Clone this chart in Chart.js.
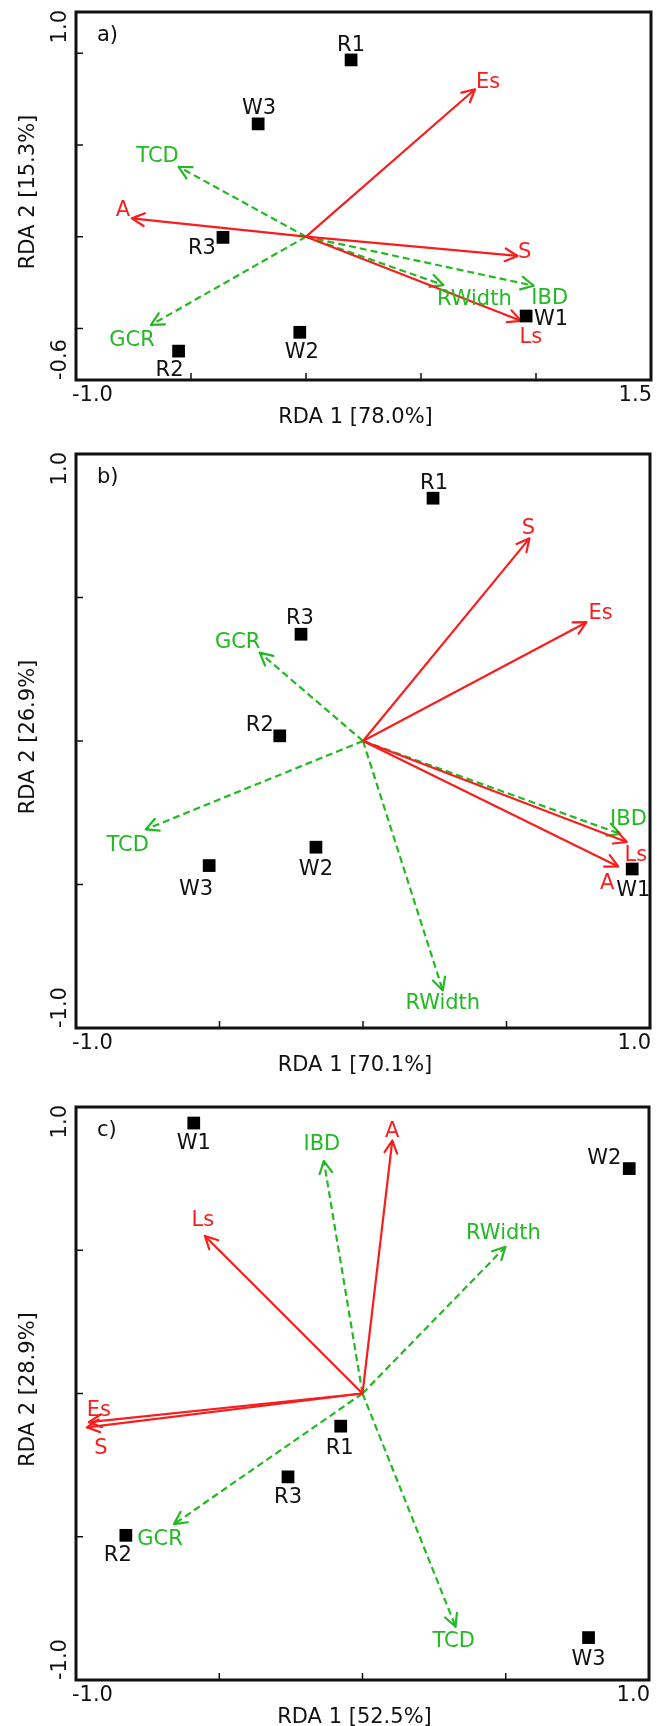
<!DOCTYPE html>
<html>
<head>
<meta charset="utf-8">
<title>RDA biplots</title>
<script src="https://cdn.jsdelivr.net/npm/chart.js@4.4.1/dist/chart.umd.min.js"></script>
<style>
  body { margin: 0; background: #fff; }
  .panel { position: absolute; left: 0; width: 664px; }
</style>
</head>
<body>
<div class="panel" style="top:0;height:436px"><canvas id="chartA" width="664" height="436"></canvas></div>
<div class="panel" style="top:436px;height:654px"><canvas id="chartB" width="664" height="654"></canvas></div>
<div class="panel" style="top:1090px;height:636px"><canvas id="chartC" width="664" height="636"></canvas></div>
<script>
const siteNames = ['R1', 'R2', 'R3', 'W1', 'W2', 'W3'];
const respNames = ['A', 'Es', 'Ls', 'S'];            // red, solid arrows
const envNames = ['GCR', 'IBD', 'RWidth', 'TCD'];    // green, dashed arrows

// panel a
const sitesAx = [0.196, -0.554, -0.361, 0.957, -0.027, -0.208];
const sitesAy = [0.771, -0.499, -0.003, -0.346, -0.417, 0.492];
const respAx = [-0.757, 0.735, 0.934, 0.920];
const respAy = [0.080, 0.643, -0.367, -0.084];
const envAx = [-0.674, 0.990, 0.597, -0.554];
const envAy = [-0.385, -0.214, -0.211, 0.305];
const xRangeA = [-1.0, 1.5];
const yRangeA = [-0.625, 0.98];
const xTicksA = [-0.5, 0, 0.5, 1.0];
const yTicksA = [-0.4, 0, 0.4, 0.8];
const xEndLabelsA = ['-1.0', '1.5'];
const yEndLabelsA = ['-0.6', '1.0'];

// panel b
const sitesBx = [0.244, -0.290, -0.216, 0.938, -0.164, -0.536];
const sitesBy = [0.846, 0.018, 0.372, -0.446, -0.370, -0.434];
const respBx = [0.889, 0.779, 0.919, 0.580];
const respBy = [-0.437, 0.414, -0.352, 0.706];
const envBx = [-0.360, 0.897, 0.278, -0.757];
const envBy = [0.308, -0.324, -0.869, -0.308];
const xRangeB = [-1.0, 1.0];
const yRangeB = [-1.0, 1.0];
const xTicksB = [-0.5, 0, 0.5];
const yTicksB = [-0.5, 0, 0.5];
const xEndLabelsB = ['-1.0', '1.0'];
const yEndLabelsB = ['-1.0', '1.0'];

// panel c
const sitesCx = [-0.076, -0.826, -0.260, -0.589, 0.931, 0.789];
const sitesCy = [-0.114, -0.495, -0.291, 0.944, 0.785, -0.852];
const respCx = [0.104, -0.955, -0.550, -0.962];
const respCy = [0.883, -0.100, 0.550, -0.118];
const envCx = [-0.658, -0.135, 0.499, 0.325];
const envCy = [-0.456, 0.812, 0.512, -0.814];
const xRangeC = [-1.0, 1.0];
const yRangeC = [-1.0, 1.0];
const xTicksC = [-0.5, 0, 0.5];
const yTicksC = [-0.5, 0, 0.5];
const xEndLabelsC = ['-1.0', '1.0'];
const yEndLabelsC = ['-1.0', '1.0'];

const RED = '#f81e1e';
const GREEN = '#22b922';
const FONT = '21px "DejaVu Sans", Verdana, sans-serif';
const CAP_HALF = 7.6;   // half cap height at 21px, to centre labels on their anchor

// label placement (label centre relative to the point / arrow tip, px)
const siteOffA = [[0, -17], [-9, 17], [-21, 9], [25, 1], [2, 18], [1, -17]];
const respOffA = [[-9, -10], [13, -9], [10, 15], [7, -6]];
const envOffA = [[-19, 13], [16, 11], [31, 12], [-21, -12]];
const siteOffB = [[1, -17], [-20, -12], [-1, -18], [1, 19], [0, 20], [-13, 22]];
const respOffB = [[-11, 15], [14, -11], [9, 11], [-1, -12]];
const envOffB = [[-22, -12], [8, -17], [0, 11], [-18, 14]];
const siteOffC = [[-1, 20], [-8, 18], [0, 19], [0, 18], [-25, -12], [0, 20]];
const respOffC = [[0, -11], [10, -14], [-2, -18], [14, 19]];
const envOffC = [[-14, 13], [-2, -18], [-2, -15], [-2, 13]];

const decor = {
    id: 'decor',
    beforeDraw(chart) {
        const ctx = chart.ctx;
        ctx.save();
        ctx.fillStyle = '#fff';
        ctx.fillRect(0, 0, chart.width, chart.height);
        ctx.restore();
    },
    afterDatasetDraw(chart, args) {
        const ds = chart.data.datasets[args.index];
        if (!ds.arrow) return;
        const pts = args.meta.data;
        const p0 = pts[0], p1 = pts[1];
        const ang = Math.atan2(p1.y - p0.y, p1.x - p0.x);
        const len = 14, half = 27 * Math.PI / 180;
        const ctx = chart.ctx;
        ctx.save();
        ctx.strokeStyle = ds.borderColor;
        ctx.lineWidth = 2.2;
        ctx.setLineDash([]);
        ctx.lineCap = 'round';
        ctx.beginPath();
        [-1, 1].forEach(s => {
            ctx.moveTo(p1.x, p1.y);
            ctx.lineTo(p1.x - len * Math.cos(ang + s * half), p1.y - len * Math.sin(ang + s * half));
        });
        ctx.stroke();
        ctx.restore();
    },
    afterDraw(chart, args, opts) {
        const ctx = chart.ctx;
        const area = chart.chartArea;
        const xs = chart.scales.x, ys = chart.scales.y;
        ctx.save();

        // frame and inner tick marks
        ctx.strokeStyle = '#111';
        ctx.lineWidth = 3;
        ctx.strokeRect(area.left, area.top, area.right - area.left, area.bottom - area.top);
        ctx.lineWidth = 1.5;
        ctx.beginPath();
        xs.ticks.forEach(t => {
            const px = xs.getPixelForValue(t.value);
            ctx.moveTo(px, area.bottom);
            ctx.lineTo(px, area.bottom - 7);
        });
        ys.ticks.forEach(t => {
            const py = ys.getPixelForValue(t.value);
            ctx.moveTo(area.left, py);
            ctx.lineTo(area.left + 7, py);
        });
        ctx.stroke();

        ctx.font = FONT;
        ctx.fillStyle = '#111';
        ctx.textBaseline = 'alphabetic';

        // end labels of the x axis
        ctx.textAlign = 'left';
        ctx.fillText(opts.xEnd[0], xs.getPixelForValue(xs.min) - 4, area.bottom + 21);
        ctx.textAlign = 'right';
        ctx.fillText(opts.xEnd[1], xs.getPixelForValue(xs.max) + 1, area.bottom + 21);

        // end labels of the y axis (rotated)
        ctx.save();
        ctx.translate(area.left - 10, ys.getPixelForValue(ys.min));
        ctx.rotate(-Math.PI / 2);
        ctx.textAlign = 'left';
        ctx.fillText(opts.yEnd[0], 0, 0);
        ctx.restore();
        ctx.save();
        ctx.translate(area.left - 10, ys.getPixelForValue(ys.max) - 2);
        ctx.rotate(-Math.PI / 2);
        ctx.textAlign = 'right';
        ctx.fillText(opts.yEnd[1], 0, 0);
        ctx.restore();

        // axis titles
        ctx.textAlign = 'center';
        ctx.fillText(opts.xTitle, (area.left + area.right) / 2 - 8, area.bottom + 43);
        ctx.save();
        ctx.translate(34, (area.top + area.bottom) / 2 - 4);
        ctx.rotate(-Math.PI / 2);
        ctx.fillText(opts.yTitle, 0, 0);
        ctx.restore();

        // panel tag
        ctx.textAlign = 'left';
        ctx.fillText(opts.tag, area.left + 21, area.top + 29);

        // point and arrow labels
        ctx.textAlign = 'center';
        chart.data.datasets.forEach((ds, i) => {
            if (!ds.pointLabels) return;
            const els = chart.getDatasetMeta(i).data;
            ds.pointLabels.forEach((txt, j) => {
                if (!txt) return;
                const off = ds.labelOffsets[j];
                ctx.fillStyle = ds.labelColor;
                ctx.fillText(txt, els[j].x + off[0], els[j].y + off[1] + CAP_HALF);
            });
        });
        ctx.restore();
    }
};

function buildPanel(canvasId, p) {
    const datasets = [{
        label: 'sites',
        data: p.sx.map((x, i) => ({x: x, y: p.sy[i]})),
        pointStyle: 'rect',
        pointRadius: 9,
        backgroundColor: '#000',
        borderWidth: 0,
        pointLabels: siteNames,
        labelOffsets: p.siteOff,
        labelColor: '#111'
    }];
    respNames.forEach((name, i) => {
        datasets.push({
            label: name,
            data: [{x: 0, y: 0}, {x: p.rx[i], y: p.ry[i]}],
            showLine: true,
            borderColor: RED,
            borderWidth: 2.2,
            pointRadius: 0,
            arrow: true,
            clip: false,
            pointLabels: ['', name],
            labelOffsets: [null, p.respOff[i]],
            labelColor: RED
        });
    });
    envNames.forEach((name, i) => {
        datasets.push({
            label: name,
            data: [{x: 0, y: 0}, {x: p.ex[i], y: p.ey[i]}],
            showLine: true,
            borderColor: GREEN,
            borderWidth: 2.2,
            borderDash: [7, 4],
            pointRadius: 0,
            arrow: true,
            clip: false,
            pointLabels: ['', name],
            labelOffsets: [null, p.envOff[i]],
            labelColor: GREEN
        });
    });

    new Chart(document.getElementById(canvasId), {
        type: 'scatter',
        data: { datasets: datasets },
        options: {
            responsive: false,
            animation: false,
            devicePixelRatio: 1,
            events: [],
            layout: { padding: p.pad },
            plugins: {
                legend: { display: false },
                tooltip: { enabled: false },
                decor: {
                    tag: p.tag,
                    xTitle: p.xTitle,
                    yTitle: p.yTitle,
                    xEnd: p.xEnd,
                    yEnd: p.yEnd
                }
            },
            scales: {
                x: {
                    type: 'linear',
                    display: false,
                    min: p.xRange[0],
                    max: p.xRange[1],
                    afterBuildTicks: s => { s.ticks = p.xTicks.map(v => ({value: v})); }
                },
                y: {
                    type: 'linear',
                    display: false,
                    min: p.yRange[0],
                    max: p.yRange[1],
                    afterBuildTicks: s => { s.ticks = p.yTicks.map(v => ({value: v})); }
                }
            }
        },
        plugins: [decor]
    });
}

buildPanel('chartA', {
    tag: 'a)', xTitle: 'RDA 1 [78.0%]', yTitle: 'RDA 2 [15.3%]',
    sx: sitesAx, sy: sitesAy, rx: respAx, ry: respAy, ex: envAx, ey: envAy,
    xRange: xRangeA, yRange: yRangeA, xTicks: xTicksA, yTicks: yTicksA,
    xEnd: xEndLabelsA, yEnd: yEndLabelsA,
    siteOff: siteOffA, respOff: respOffA, envOff: envOffA,
    pad: { left: 76, top: 12, right: 13, bottom: 56 }
});

buildPanel('chartB', {
    tag: 'b)', xTitle: 'RDA 1 [70.1%]', yTitle: 'RDA 2 [26.9%]',
    sx: sitesBx, sy: sitesBy, rx: respBx, ry: respBy, ex: envBx, ey: envBy,
    xRange: xRangeB, yRange: yRangeB, xTicks: xTicksB, yTicks: yTicksB,
    xEnd: xEndLabelsB, yEnd: yEndLabelsB,
    siteOff: siteOffB, respOff: respOffB, envOff: envOffB,
    pad: { left: 76, top: 18, right: 14, bottom: 62 }
});

buildPanel('chartC', {
    tag: 'c)', xTitle: 'RDA 1 [52.5%]', yTitle: 'RDA 2 [28.9%]',
    sx: sitesCx, sy: sitesCy, rx: respCx, ry: respCy, ex: envCx, ey: envCy,
    xRange: xRangeC, yRange: yRangeC, xTicks: xTicksC, yTicks: yTicksC,
    xEnd: xEndLabelsC, yEnd: yEndLabelsC,
    siteOff: siteOffC, respOff: respOffC, envOff: envOffC,
    pad: { left: 76, top: 17, right: 15, bottom: 46 }
});
</script>
</body>
</html>
